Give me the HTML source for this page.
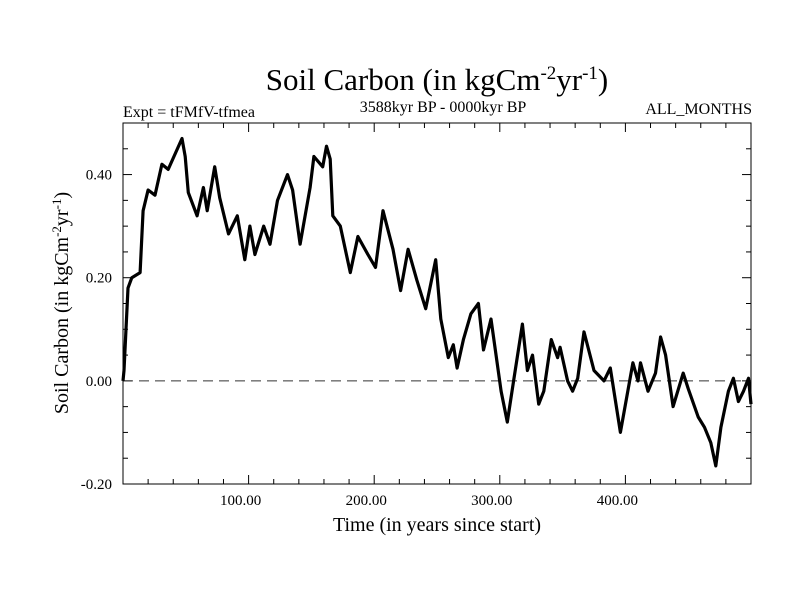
<!DOCTYPE html>
<html><head><meta charset="utf-8"><style>
body{margin:0;background:#fff}
svg text{font-family:"Liberation Serif",serif;fill:#000}
</style></head><body>
<svg id="chart" width="800" height="600" xmlns="http://www.w3.org/2000/svg">
<rect width="800" height="600" fill="#fff"/>
<text x="437" y="90" font-size="31" text-anchor="middle">Soil Carbon (in kgCm<tspan dy="-11" font-size="19">-2</tspan><tspan dy="11">yr</tspan><tspan dy="-11" font-size="19">-1</tspan><tspan dy="11">)</tspan></text>
<text x="123" y="117" font-size="16">Expt = tFMfV-tfmea</text>
<text x="443" y="112" font-size="16" text-anchor="middle">3588kyr BP - 0000kyr BP</text>
<text x="752" y="114" font-size="16" text-anchor="end">ALL_MONTHS</text>
<text x="437" y="531" font-size="20" text-anchor="middle">Time (in years since start)</text>
<text transform="translate(68,303) rotate(-90)" font-size="20" text-anchor="middle">Soil Carbon (in kgCm<tspan dy="-7" font-size="13">-2</tspan><tspan dy="7">yr</tspan><tspan dy="-7" font-size="13">-1</tspan><tspan dy="7">)</tspan></text>
<g id="axes"></g>
<g id="series"></g>
<rect x="123" y="123" width="628" height="361" fill="none" stroke="#000" stroke-width="1"/>
</svg>
<script>
const years=[0,0.8,4,7,13.6,16,20,25.5,31,36,47,49.5,52,59,64,67,73,77,84,91,97,101,105,112,117,123,131,135,141,149,152,159,162,165,167,173,181,187,195,201,207,215,221,227,234,241,249,253,259,263,266,271,277,283,287,293,301,306,311,318,322,326,331,335,341,346,348,354,358,362,367,375,383,388,396,399,406,410,412,418,424,428,432,438,446,450,458,463,468,472,476,482,486,490,494,498,500];
const values=[0.0,0.02,0.18,0.20,0.21,0.33,0.37,0.36,0.42,0.41,0.47,0.435,0.365,0.32,0.375,0.33,0.415,0.355,0.285,0.32,0.235,0.30,0.245,0.30,0.265,0.35,0.40,0.37,0.265,0.375,0.435,0.415,0.455,0.43,0.32,0.30,0.21,0.28,0.245,0.22,0.33,0.255,0.175,0.255,0.195,0.14,0.235,0.12,0.045,0.07,0.025,0.08,0.13,0.15,0.06,0.12,-0.02,-0.08,0.0,0.11,0.02,0.05,-0.045,-0.02,0.08,0.045,0.065,0.0,-0.02,0.005,0.095,0.02,0.0,0.025,-0.10,-0.06,0.035,0.0,0.035,-0.02,0.015,0.085,0.05,-0.05,0.015,-0.015,-0.07,-0.09,-0.12,-0.165,-0.09,-0.02,0.005,-0.04,-0.02,0.005,-0.045];
const xTicks=[100,200,300,400];
const xTickLabels=["100.00","200.00","300.00","400.00"];
const yTicks=[0.4,0.2,0.0,-0.2];
const yTickLabels=["0.40","0.20","0.00","-0.20"];
const X0=123,X1=751,Y0=484,Y1=123,xMin=0,xMax=500,yMin=-0.2,yMax=0.5;
const sx=v=>X0+(v-xMin)/(xMax-xMin)*(X1-X0);
const sy=v=>Y0-(v-yMin)/(yMax-yMin)*(Y0-Y1);
const NS="http://www.w3.org/2000/svg";
const ax=document.getElementById('axes'),se=document.getElementById('series');
function mk(tag,attrs,parent){const e=document.createElementNS(NS,tag);for(const k in attrs)e.setAttribute(k,attrs[k]);parent.appendChild(e);return e;}
for(let v=20;v<500;v+=20){
  const major=v%100===0,len=major?9:5,x=sx(v);
  const t1=mk('line',{x1:x,x2:x,y1:Y0,y2:Y0-len,stroke:'#000'},ax);
  
  
  const t2=mk('line',{x1:x,x2:x,y1:Y1,y2:Y1+len,stroke:'#000'},ax);
  
  
}
xTicks.forEach((v,i)=>{
  const t=mk('text',{x:sx(v)-8,y:505,'font-size':15,'text-anchor':'middle'},ax);t.textContent=xTickLabels[i];
  
  
});
for(let k=-3;k<=9;k++){
  const v=k*0.05;if(v<=yMin+1e-9||v>=yMax-1e-9)continue;
  const major=Math.abs(Math.round(v*100)%20)===0,len=major?9:5,y=sy(v);
  const t1=mk('line',{x1:X0,x2:X0+len,y1:y,y2:y,stroke:'#000'},ax);
  
  
  const t2=mk('line',{x1:X1,x2:X1-len,y1:y,y2:y,stroke:'#000'},ax);
  
  
}
yTicks.forEach((v,i)=>{
  const t=mk('text',{x:112,y:sy(v)+5,'font-size':15,'text-anchor':'end'},ax);t.textContent=yTickLabels[i];
  
  
});
const z=mk('line',{x1:X0,x2:X1,y1:sy(0),y2:sy(0),stroke:'#333','stroke-dasharray':'10,6'},se);


const d=years.map((v,i)=>(i?'L':'M')+sx(v).toFixed(1)+','+sy(values[i]).toFixed(1)).join('');
const p=mk('path',{d:d,fill:'none',stroke:'#000','stroke-width':3.2,'stroke-linejoin':'round'},se);


</script>
</body></html>
